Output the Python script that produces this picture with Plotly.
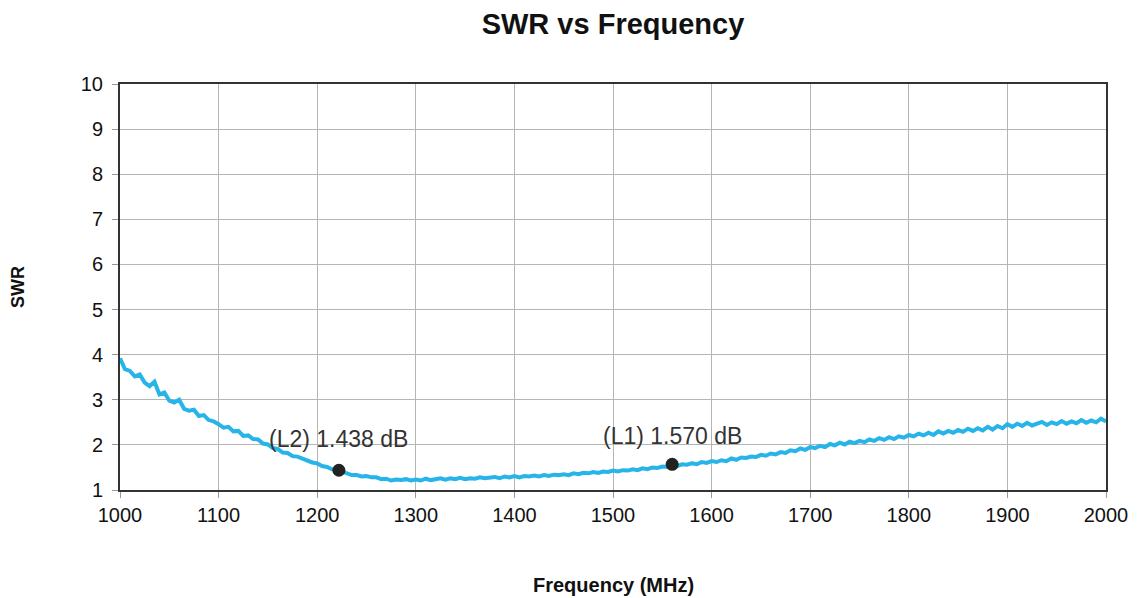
import plotly.graph_objects as go

# SWR sweep, 5 MHz steps from 1000 MHz to 2000 MHz
swr = [
    3.92, 3.68, 3.64, 3.52, 3.56, 3.38, 3.30, 3.40, 3.12, 3.16, 2.98, 2.94, 3.00, 2.80, 2.76, 2.78, 2.64, 2.66, 2.55, 2.52,
    2.46, 2.38, 2.40, 2.30, 2.31, 2.20, 2.21, 2.13, 2.12, 2.03, 2.01, 1.93, 1.91, 1.83, 1.82, 1.75, 1.74, 1.69, 1.66, 1.61,
    1.59, 1.53, 1.51, 1.46, 1.45, 1.41, 1.38, 1.33, 1.33, 1.30, 1.31, 1.28, 1.28, 1.24, 1.25, 1.21, 1.23, 1.22, 1.24, 1.21,
    1.23, 1.21, 1.25, 1.22, 1.24, 1.26, 1.23, 1.26, 1.24, 1.27, 1.24, 1.26, 1.25, 1.28, 1.26, 1.27, 1.29, 1.26, 1.30, 1.28,
    1.31, 1.28, 1.31, 1.30, 1.32, 1.30, 1.33, 1.31, 1.34, 1.33, 1.35, 1.33, 1.37, 1.35, 1.38, 1.37, 1.40, 1.38, 1.41, 1.40,
    1.43, 1.41, 1.44, 1.43, 1.46, 1.44, 1.48, 1.46, 1.50, 1.49, 1.52, 1.51, 1.57, 1.53, 1.57, 1.56, 1.59, 1.57, 1.62, 1.60,
    1.64, 1.62, 1.66, 1.64, 1.70, 1.67, 1.72, 1.71, 1.74, 1.73, 1.78, 1.76, 1.81, 1.79, 1.84, 1.82, 1.88, 1.86, 1.92, 1.89,
    1.95, 1.93, 1.98, 1.95, 2.02, 1.99, 2.05, 2.01, 2.07, 2.04, 2.09, 2.06, 2.12, 2.09, 2.15, 2.11, 2.17, 2.13, 2.19, 2.16,
    2.22, 2.19, 2.25, 2.21, 2.27, 2.22, 2.30, 2.25, 2.31, 2.27, 2.33, 2.29, 2.36, 2.31, 2.37, 2.32, 2.40, 2.34, 2.42, 2.37,
    2.46, 2.40, 2.47, 2.42, 2.49, 2.43, 2.48, 2.51, 2.44, 2.50, 2.46, 2.53, 2.47, 2.52, 2.48, 2.55, 2.49, 2.54, 2.50, 2.58,
    2.52,
]
freq = list(range(1000, 1000 + 5 * len(swr), 5))

marker_freq = [1222, 1560]
marker_swr = [1.438, 1.570]
marker_labels = ["(L2) 1.438 dB", "(L1) 1.570 dB"]
marker_yshift = [31, 28]

x_ticks = [1000, 1100, 1200, 1300, 1400, 1500, 1600, 1700, 1800, 1900, 2000]
y_ticks = [1, 2, 3, 4, 5, 6, 7, 8, 9, 10]

FONT = "Liberation Sans, Arial, sans-serif"

fig = go.Figure()
fig.add_trace(go.Scatter(x=freq, y=swr, mode="lines",
                         line=dict(color="#27b4e9", width=4), hoverinfo="x+y",
                         showlegend=False))
fig.add_trace(go.Scatter(x=marker_freq, y=marker_swr, mode="markers",
                         marker=dict(color="#222222", size=13), showlegend=False))

for fx, fy, lab, ys in zip(marker_freq, marker_swr, marker_labels, marker_yshift):
    fig.add_annotation(x=fx, y=fy, text=lab, showarrow=False, yshift=ys,
                       font=dict(family=FONT, size=23, color="#333333"))

fig.add_annotation(xref="paper", yref="paper", x=0.5, y=-0.234, text="<b>Frequency (MHz)</b>",
                   showarrow=False, yanchor="middle",
                   font=dict(family=FONT, size=20, color="#111111"))
fig.add_annotation(xref="paper", yref="paper", x=-0.1034, y=0.5, text="<b>SWR</b>",
                   showarrow=False, textangle=-90, xanchor="center",
                   font=dict(family=FONT, size=18, color="#111111"))

# page body has an 8px margin: shrink figure so it fits the 1142x598 window
fig.update_layout(
    width=1134, height=590,
    margin=dict(l=112, r=36, t=76, b=108),
    paper_bgcolor="white", plot_bgcolor="white",
    title=dict(text="<b>SWR vs Frequency</b>", x=0.5, xref="paper", xanchor="center",
               y=1 - 16 / 590, yanchor="middle", yref="container",
               font=dict(family=FONT, size=29, color="#111111")),
    font=dict(family=FONT, color="#111111"),
    xaxis=dict(range=[1000, 2000], tickvals=x_ticks, ticktext=[str(v) for v in x_ticks],
               showgrid=True, gridcolor="#b5b5b5", gridwidth=1,
               showline=True, linecolor="#333333", linewidth=2, mirror=True,
               ticks="outside", ticklen=6, tickcolor="#999999",
               tickfont=dict(size=20, color="#111111"), zeroline=False),
    yaxis=dict(range=[1, 10], tickvals=y_ticks,
               showgrid=True, gridcolor="#b5b5b5", gridwidth=1,
               showline=True, linecolor="#333333", linewidth=2, mirror=True,
               ticks="outside", ticklen=6, tickcolor="#999999", ticklabelstandoff=5,
               tickfont=dict(size=20, color="#111111"), zeroline=False),
)

fig.write_html("out.html")
